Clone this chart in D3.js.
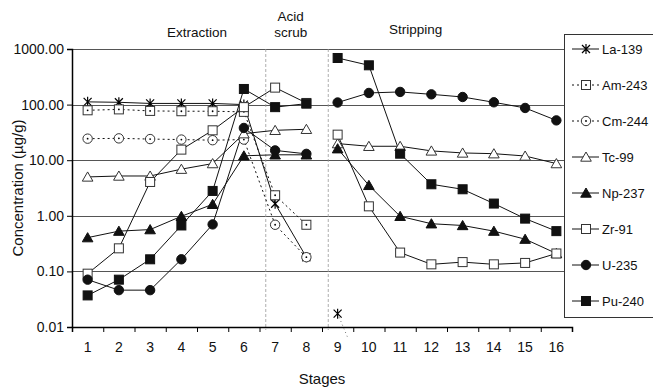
<!DOCTYPE html>
<html>
<head>
<meta charset="utf-8">
<script src="https://cdn.jsdelivr.net/npm/d3@7"></script>
<style>
  body { margin: 0; background: #fff; }
  svg { font-family: "Liberation Sans", Arial, sans-serif; }
</style>
</head>
<body>
<svg width="653" height="389"></svg>
<script>
// stages and series values (µg/g), null = no point
var stages = [1,2,3,4,5,6,7,8,9,10,11,12,13,14,15,16];
var yTicks = [0.01, 0.1, 1, 10, 100, 1000];
var seriesNames = ["La-139","Am-243","Cm-244","Tc-99","Np-237","Zr-91","U-235","Pu-240"];
var la139 = [112,110,105,105,105,100,1.65,0.18, 0.0174,0.0008,null,null,null,null,null,null];
var am243 = [79,82,77,76,76,74,2.34,0.69, null,null,null,null,null,null,null,null];
var cm244 = [24.4,24.7,24,23.5,22.9,23.5,0.69,0.18, null,null,null,null,null,null,null,null];
var tc99  = [5.0,5.2,5.2,6.9,8.7,30,34.5,36, 19.9,17.8,17.8,14.7,13.5,13.1,11.9,8.7];
var np237 = [0.405,0.53,0.565,0.98,1.61,12,12.5,12.5, 16.1,3.53,0.98,0.72,0.67,0.53,0.38,0.21];
var zr91  = [0.091,0.26,4.06,15.5,34.5,90,202,107, 28.8,1.48,0.218,0.134,0.147,0.134,0.142,0.21];
var u235  = [0.071,0.046,0.046,0.165,0.70,38,15,13, 109,162,169,153,137,110,87,52];
var pu240 = [0.037,0.071,0.165,0.67,2.8,191,90,104, 689,509,13.1,3.69,3.0,1.66,0.89,0.53];
// process sections: each one is drawn as its own line
var sections = [[1,8],[9,16]];
var sectionLabels = [["Extraction"],["Acid","scrub"],["Stripping"]];
var sectionLabelStages = [4.5, 7.5, 11.5];
var dividers = [6.7, 8.7];

var values = [la139, am243, cm244, tc99, np237, zr91, u235, pu240];

var svg = d3.select("svg"),
    margin = {top: 49, right: 81, bottom: 62, left: 72},
    width = 653 - margin.left - margin.right,
    height = 389 - margin.top - margin.bottom;

var x = d3.scaleLinear().domain([0.5, 16.5]).range([margin.left, margin.left + width]);
var y = d3.scaleLog().domain([0.01, 1000]).range([margin.top + height, margin.top]);

// markers
function marker(sel, name) {
  var k = seriesNames.indexOf(name);
  if (k == 0) {
    sel.append("path").attr("d", "M-4,-4L4,4M-4,4L4,-4M0,-5L0,5")
      .attr("stroke", "#000").attr("stroke-width", 1.2).attr("fill", "none");
  } else if (k == 1 || k == 5 || k == 7) {
    sel.append("rect").attr("x", -4.5).attr("y", -4.5).attr("width", 9).attr("height", 9)
      .attr("fill", k == 7 ? "#111" : "#fff").attr("stroke", k == 7 ? "#111" : "#333").attr("stroke-width", 1);
    if (k == 1) sel.append("circle").attr("r", 0.9).attr("fill", "#000");
  } else if (k == 2 || k == 6) {
    sel.append("circle").attr("r", 4.7)
      .attr("fill", k == 6 ? "#111" : "#fff").attr("stroke", k == 6 ? "#111" : "#333").attr("stroke-width", 1);
    if (k == 2) sel.append("circle").attr("r", 0.9).attr("fill", "#000");
  } else {
    sel.append("path").attr("d", "M0,-5L5.3,4.2L-5.3,4.2Z")
      .attr("fill", k == 4 ? "#111" : "#fff").attr("stroke", k == 4 ? "#111" : "#333").attr("stroke-width", 1);
  }
}
var dotted = {"Am-243": true, "Cm-244": true};

// gridlines
svg.append("g").selectAll("line").data(yTicks.slice(1)).enter().append("line")
  .attr("x1", margin.left).attr("x2", margin.left + width)
  .attr("y1", function(d) { return Math.round(y(d)) + 0.5; })
  .attr("y2", function(d) { return Math.round(y(d)) + 0.5; })
  .attr("stroke", "#555").attr("stroke-width", 1.2);

// section dividers
svg.append("g").selectAll("line").data(dividers).enter().append("line")
  .attr("x1", function(d) { return x(d); }).attr("x2", function(d) { return x(d); })
  .attr("y1", margin.top).attr("y2", margin.top + height + 3)
  .attr("stroke", "#999").attr("stroke-width", 0.8).attr("stroke-dasharray", "3,2");

// axes
var yAxis = svg.append("g").attr("transform", "translate(" + margin.left + ",0)")
  .call(d3.axisLeft(y).tickValues(yTicks).tickFormat(d3.format(".2f")).tickSizeOuter(0).tickSize(5));
yAxis.select(".domain").attr("stroke-width", 1.5);
yAxis.selectAll("text").attr("font-size", 14).attr("fill", "#111").attr("x", -8);

var xAxis = svg.append("g").attr("transform", "translate(0," + (margin.top + height) + ")")
  .call(d3.axisBottom(x).tickValues(d3.range(0.5, 17, 1)).tickFormat("").tickSizeOuter(0).tickSize(5));
xAxis.select(".domain").attr("stroke-width", 1.5);
svg.append("g").selectAll("text").data(stages).enter().append("text")
  .attr("x", function(d) { return x(d); }).attr("y", margin.top + height + 25)
  .attr("text-anchor", "middle").attr("font-size", 14).attr("fill", "#111")
  .text(function(d) { return d; });

// axis titles
svg.append("text").attr("x", x(8.5)).attr("y", 384).attr("text-anchor", "middle")
  .attr("font-size", 15).attr("fill", "#111").text("Stages");
svg.append("text").attr("transform", "translate(23," + (margin.top + height / 2) + ") rotate(-90)")
  .attr("text-anchor", "middle").attr("font-size", 15).attr("fill", "#111").text("Concentration (µg/g)");

// section labels
sectionLabels.forEach(function(lines, i) {
  var t = svg.append("text").attr("text-anchor", "middle").attr("font-size", 13.5).attr("fill", "#111");
  var base = i == 2 ? 34 : 37;
  lines.forEach(function(s, j) {
    t.append("tspan").attr("x", x(sectionLabelStages[i]))
      .attr("y", base - (lines.length - 1 - j) * 16).text(s);
  });
});

// series
svg.append("clipPath").attr("id", "clip").append("rect")
  .attr("x", margin.left).attr("y", 0).attr("width", width).attr("height", margin.top + height + 11);

var line = d3.line()
  .defined(function(d) { return d.v != null; })
  .x(function(d) { return x(d.s); })
  .y(function(d) { return y(d.v); });

var plot = svg.append("g").attr("clip-path", "url(#clip)");
seriesNames.forEach(function(name, k) {
  var pts = stages.map(function(s, i) { return {s: s, v: values[k][i]}; });
  sections.forEach(function(sec) {
    var seg = pts.filter(function(d) { return d.s >= sec[0] && d.s <= sec[1]; });
    var p = plot.append("path").datum(seg).attr("d", line)
      .attr("fill", "none").attr("stroke", "#111").attr("stroke-width", 1);
    if (dotted[name]) p.attr("stroke-dasharray", "2,3");
    // La-139 tail falls off the chart as a faint dotted trace
    if (name == "La-139" && sec[0] == 9) p.attr("stroke-dasharray", "1,3").attr("stroke", "#777");
  });
});
seriesNames.forEach(function(name, k) {
  var pts = stages.map(function(s, i) { return {s: s, v: values[k][i]}; })
    .filter(function(d) { return d.v != null && d.v >= 0.01; });
  plot.append("g").selectAll("g").data(pts).enter().append("g")
    .attr("transform", function(d) { return "translate(" + x(d.s) + "," + y(d.v) + ")"; })
    .each(function() { marker(d3.select(this), name); });
});

// legend
var legend = svg.append("g").attr("transform", "translate(564,34)");
legend.append("rect").attr("x", 0.5).attr("y", 0.5).attr("width", 100).attr("height", 283)
  .attr("fill", "#fff").attr("stroke", "#333").attr("stroke-width", 1);
var item = legend.selectAll("g.item").data(seriesNames).enter().append("g")
  .attr("class", "item")
  .attr("transform", function(d, i) { return "translate(0," + (15 + i * 36) + ")"; });
item.append("line").attr("x1", 8).attr("x2", 35).attr("stroke", "#111").attr("stroke-width", 1)
  .attr("stroke-dasharray", function(d) { return dotted[d] ? "2,3" : null; });
item.each(function(d) { var g = d3.select(this).append("g").attr("transform", "translate(22,0)"); marker(g, d); });
item.append("text").attr("x", 38).attr("dy", "0.35em").attr("font-size", 13).attr("fill", "#111")
  .text(function(d) { return d; });
</script>
</body>
</html>
